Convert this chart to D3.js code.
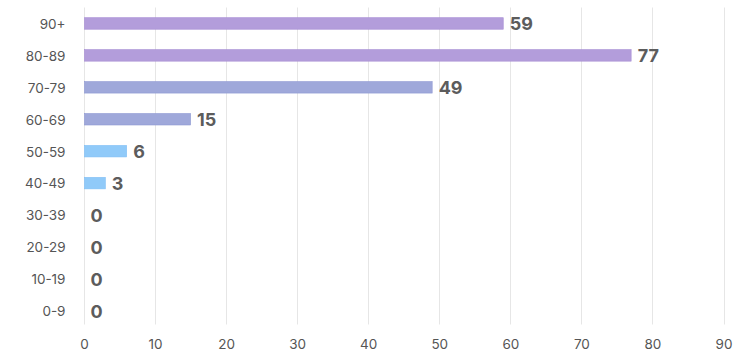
<!DOCTYPE html>
<html><head><meta charset="utf-8">
<script src="https://cdn.jsdelivr.net/npm/d3@7"></script>
<style>body{margin:0;background:#fff}svg{display:block;font-family:Inter,"Noto Sans",sans-serif}</style>
</head><body><svg id="c" width="750" height="363"></svg>
<script>
const categories = ["90+","80-89","70-79","60-69","50-59","40-49","30-39","20-29","10-19","0-9"];
const values = [59,77,49,15,6,3,0,0,0,0];
const colors = ["#b39ddb","#b39ddb","#9fa8da","#9fa8da","#90caf9","#90caf9","#90caf9","#90caf9","#90caf9","#90caf9"];
const strokes = ["#a58bd3","#a58bd3","#8e98d2","#8e98d2","#7fbff5","#7fbff5","#7fbff5","#7fbff5","#7fbff5","#7fbff5"];
const xTicks = [0,10,20,30,40,50,60,70,80,90];

(function(){
const svg = d3.select("#c");
const mL = 84, mR = 723.5, gT = 7.5, gB = 324.5;
const x = d3.scaleLinear().domain([0,90]).range([mL,mR]);
const y = d3.scaleBand().domain(categories).range([7.5,326.8]).paddingInner(0.64).paddingOuter(0.32);

svg.append("g").selectAll("line").data(xTicks).join("line")
  .attr("x1",d=>Math.round(x(d))+0.5).attr("x2",d=>Math.round(x(d))+0.5)
  .attr("y1",gT).attr("y2",gB)
  .attr("stroke","#e6e6e6").attr("stroke-width",1);

svg.append("g").selectAll("text").data(xTicks).join("text")
  .attr("x",d=>x(d)+0.5).attr("y",349).attr("text-anchor","middle")
  .attr("font-size",13.5).attr("fill","#555").text(d=>d);

svg.append("g").selectAll("text").data(categories).join("text")
  .attr("x",65.5).attr("y",d=>y(d)+y.bandwidth()/2+0.5).attr("dy","0.36em")
  .attr("text-anchor","end").attr("font-size",13.5).attr("fill","#555").text(d=>d);

svg.append("g").selectAll("rect").data(values).join("rect")
  .attr("x",x(0)+0.5).attr("y",(d,i)=>y(categories[i]))
  .attr("width",d=>Math.max(0,x(d)-x(0)-0.5)).attr("height",y.bandwidth())
  .attr("fill",(d,i)=>colors[i]).attr("stroke",(d,i)=>d>0?strokes[i]:"none").attr("stroke-width",0.6);

svg.append("g").selectAll("text").data(values).join("text")
  .attr("x",d=>x(d)+6.5).attr("y",(d,i)=>y(categories[i])+y.bandwidth()/2+0.5).attr("dy","0.36em")
  .attr("font-size",18).attr("font-weight",700).attr("fill","#5c5c5c").text(d=>d);
})();
</script></body></html>
